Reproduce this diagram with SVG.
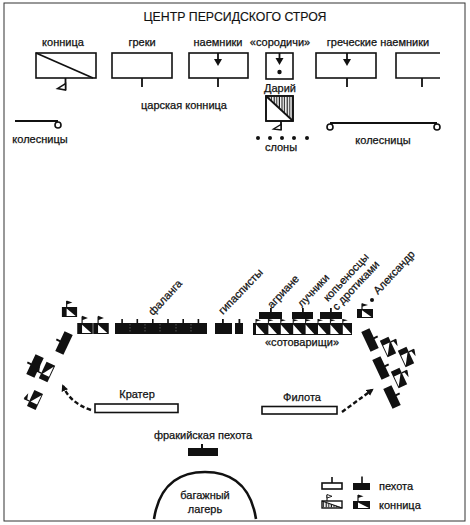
<svg xmlns="http://www.w3.org/2000/svg" width="470" height="525" viewBox="0 0 470 525">
<style>
.t{font-family:"Liberation Sans",Arial,sans-serif;font-size:11px;fill:#111;stroke:#111;stroke-width:0.25}
.tt{font-family:"Liberation Sans",Arial,sans-serif;font-size:12.3px;fill:#111;stroke:#111;stroke-width:0.15}
.box{fill:#fff;stroke:#111;stroke-width:1.6}
.blk{fill:#111}
.ln{stroke:#111;stroke-width:1.8;fill:none}
.dash{stroke:#111;stroke-width:2.4;fill:none;stroke-dasharray:4.5 2.5}
</style>
<defs>
<pattern id="vh" width="2.6" height="3" patternUnits="userSpaceOnUse"><rect width="2.6" height="3" fill="#fff"/><rect x="0.6" width="1.1" height="3" fill="#111"/></pattern>
<marker id="ah" markerWidth="8" markerHeight="8" refX="5" refY="4" orient="auto" markerUnits="userSpaceOnUse"><path d="M0,0.5 L7,4 L0,7.5 Z" fill="#111"/></marker>
<g id="infB"><rect x="-11" y="-4.5" width="22" height="9" fill="#111"/><rect x="-1" y="-8.5" width="2" height="4.5" fill="#111"/></g>
<g id="cavB"><rect x="-8" y="-5" width="16" height="10" fill="#111"/><polygon points="-3,-3.5 -3,4 6.5,4" fill="#fff"/><line x1="-3" y1="-5" x2="-3" y2="-11" stroke="#111" stroke-width="1.2"/><polygon points="-3,-11.5 3,-9.5 -3,-7.5" fill="#111"/></g>
</defs>
<rect x="0" y="0" width="470" height="525" fill="#fff"/>
<rect x="4" y="3" width="461" height="518" fill="none" stroke="#333" stroke-width="1"/>
<text class="tt" x="235" y="21" text-anchor="middle">ЦЕНТР ПЕРСИДСКОГО СТРОЯ</text>

<g id="persian-cavalry">
<text class="t" x="63" y="46" text-anchor="middle">конница</text>
<rect class="box" x="36" y="53" width="60" height="25"/>
<line class="ln" x1="36" y1="53" x2="93" y2="78" stroke-width="1.4"/>
<line class="ln" x1="65.5" y1="78" x2="65.5" y2="90" stroke-width="1.6"/>
<polygon points="65.5,83.5 65.5,90 57.5,88.5" fill="#fff" stroke="#111" stroke-width="1.5"/>
</g>
<g id="greeks">
<text class="t" x="142" y="46" text-anchor="middle">греки</text>
<rect class="box" x="112" y="53" width="60" height="25"/>
<line class="ln" x1="142" y1="78" x2="142" y2="87" stroke-width="2"/>
</g>
<g id="mercenaries">
<text class="t" x="218" y="46" text-anchor="middle">наемники</text>
<rect class="box" x="189" y="53" width="59" height="25"/>
<line class="ln" x1="218" y1="53" x2="218" y2="60"/>
<polygon points="214,59 222,59 218,66" fill="#111"/>
<line class="ln" x1="218" y1="78" x2="218" y2="87" stroke-width="2"/>
</g>
<g id="kinsmen">
<text class="t" x="280" y="46" text-anchor="middle">«сородичи»</text>
<rect class="box" x="266" y="53" width="27" height="26"/>
<line class="ln" x1="279.5" y1="53" x2="279.5" y2="59"/>
<polygon points="275.5,58 283.5,58 279.5,65" fill="#111"/>
<circle cx="279.5" cy="72" r="2.2" fill="#111"/>
</g>
<g id="darius">
<text class="t" x="280" y="92" text-anchor="middle">Дарий</text>
<rect class="box" x="266" y="96" width="27" height="25"/>
<polygon points="267,96.8 292.2,96.8 292.2,120.2" fill="url(#vh)"/>
<line class="ln" x1="266" y1="96" x2="293" y2="121" stroke-width="1.3"/>
<rect x="266" y="96" width="27" height="25" fill="none" stroke="#111" stroke-width="1.6"/>
<line class="ln" x1="281" y1="121" x2="281" y2="130" stroke-width="1.6"/>
<polygon points="281,124.5 281,130 273.5,129" fill="#fff" stroke="#111" stroke-width="1.4"/>
</g>
<g id="elephants">
<circle cx="258" cy="138" r="2" fill="#111"/>
<circle cx="270" cy="138" r="2" fill="#111"/>
<circle cx="282" cy="138" r="2" fill="#111"/>
<circle cx="294" cy="138" r="2" fill="#111"/>
<circle cx="307" cy="138" r="2" fill="#111"/>
<text class="t" x="281" y="151" text-anchor="middle">слоны</text>
</g>
<g id="greek-mercenaries">
<text class="t" x="378" y="46" text-anchor="middle">греческие наемники</text>
<rect class="box" x="316" y="53" width="60" height="25"/>
<line class="ln" x1="347" y1="53" x2="347" y2="60"/>
<polygon points="343,59 351,59 347,66" fill="#111"/>
<line class="ln" x1="347" y1="78" x2="347" y2="87" stroke-width="2"/>
</g>
<g id="right-box">
<path d="M440,53 H396 V78 H440" fill="#fff" stroke="#111" stroke-width="1.6"/>
<line class="ln" x1="422" y1="78" x2="422" y2="87" stroke-width="2"/>
</g>
<g id="royal-cavalry">
<text class="t" x="184" y="109" text-anchor="middle">царская конница</text>
</g>
<g id="chariots-left">
<line class="ln" x1="15" y1="121" x2="58" y2="121"/>
<circle cx="58" cy="125" r="3" fill="#fff" stroke="#111" stroke-width="1.6"/>
<text class="t" x="40" y="143" text-anchor="middle">колесницы</text>
</g>
<g id="chariots-right">
<line class="ln" x1="330" y1="123" x2="437" y2="123"/>
<circle cx="330" cy="127" r="3" fill="#fff" stroke="#111" stroke-width="1.6"/>
<circle cx="437" cy="127" r="3" fill="#fff" stroke="#111" stroke-width="1.6"/>
<text class="t" x="383" y="144" text-anchor="middle">колесницы</text>
</g>

<g id="left-cavalry-line">
<use href="#cavB" transform="translate(85,328.5) scale(0.97,1.1)"/>
<use href="#cavB" transform="translate(101,328.5) scale(0.97,1.1)"/>
</g>
<g id="phalanx">
<rect x="115" y="323" width="92" height="11" fill="#111"/>
<g fill="#111"><rect x="121.3" y="319" width="1.6" height="4"/><rect x="136.5" y="319" width="1.6" height="4"/><rect x="152" y="319" width="1.6" height="4"/><rect x="167.2" y="319" width="1.6" height="4"/><rect x="182.4" y="319" width="1.6" height="4"/><rect x="197.6" y="319" width="1.6" height="4"/></g>
<g stroke="#888" stroke-width="0.6" stroke-dasharray="1.5 1.5"><line x1="130" y1="324" x2="130" y2="333"/><line x1="145" y1="324" x2="145" y2="333"/><line x1="160" y1="324" x2="160" y2="333"/><line x1="176" y1="324" x2="176" y2="333"/><line x1="191" y1="324" x2="191" y2="333"/></g>
<text class="t" transform="translate(153,316) rotate(-47)">фаланга</text>
</g>
<g id="hypaspists">
<rect x="215" y="323" width="17" height="11" fill="#111"/>
<rect x="222" y="319" width="1.8" height="4" fill="#111"/>
<rect x="235" y="323" width="8" height="11" fill="#111"/>
<rect x="238.5" y="319" width="1.8" height="4" fill="#111"/>
<text class="t" transform="translate(223,315) rotate(-46)">гипасписты</text>
</g>
<g id="companions">
<rect x="253" y="323" width="99" height="12" fill="#111"/>
<g fill="#fff"><polygon points="256,324.5 256,334 264.6,334"/><polygon points="268.4,324.5 268.4,334 277,334"/><polygon points="280.8,324.5 280.8,334 289.4,334"/><polygon points="293.2,324.5 293.2,334 301.8,334"/><polygon points="305.6,324.5 305.6,334 314.2,334"/><polygon points="318,324.5 318,334 326.6,334"/><polygon points="330.4,324.5 330.4,334 339,334"/><polygon points="342.8,324.5 342.8,334 351.4,334"/></g>
<g fill="#111"><polygon points="256,319 261,320.3 256,321.6"/><polygon points="268.4,319 273.4,320.3 268.4,321.6"/><polygon points="280.8,319 285.8,320.3 280.8,321.6"/><polygon points="293.2,319 298.2,320.3 293.2,321.6"/><polygon points="305.6,319 310.6,320.3 305.6,321.6"/><polygon points="318,319 323,320.3 318,321.6"/><polygon points="330.4,319 335.4,320.3 330.4,321.6"/><polygon points="342.8,319 347.8,320.3 342.8,321.6"/></g>
<g stroke="#111" stroke-width="1"><line x1="256" y1="319" x2="256" y2="323"/><line x1="268.4" y1="319" x2="268.4" y2="323"/><line x1="280.8" y1="319" x2="280.8" y2="323"/><line x1="293.2" y1="319" x2="293.2" y2="323"/><line x1="305.6" y1="319" x2="305.6" y2="323"/><line x1="318" y1="319" x2="318" y2="323"/><line x1="330.4" y1="319" x2="330.4" y2="323"/><line x1="342.8" y1="319" x2="342.8" y2="323"/></g>
<text class="t" x="302" y="346" text-anchor="middle">«сотоварищи»</text>
</g>
<g id="agrianians">
<rect x="259" y="312" width="23" height="7" fill="#111"/>
<rect x="270" y="308" width="1.8" height="4" fill="#111"/>
<text class="t" transform="translate(272,309) rotate(-47)">агриане</text>
</g>
<g id="archers">
<rect x="292" y="312" width="21" height="7" fill="#111"/>
<rect x="302" y="308" width="1.8" height="4" fill="#111"/>
<text class="t" transform="translate(302,308) rotate(-47)">лучники</text>
</g>
<g id="javelinmen">
<rect x="320" y="312" width="22" height="7" fill="#111"/>
<rect x="330" y="308" width="1.8" height="4" fill="#111"/>
<text class="t" transform="translate(328,302) rotate(-47)">копьеносцы</text>
<text class="t" transform="translate(337,311) rotate(-47)">с дротиками</text>
</g>
<g id="alexander">
<use href="#cavB" transform="translate(365,313.5) scale(1,0.9)"/>
<circle cx="372" cy="300" r="2" fill="#111"/>
<text class="t" transform="translate(378,295) rotate(-47)">Александр</text>
</g>
<g id="left-flank">
<use href="#cavB" transform="translate(69.5,312) scale(0.95,1)"/>
<use href="#infB" transform="translate(64,343) rotate(-65)"/>
<use href="#infB" transform="translate(35,366) rotate(-65)"/>
<use href="#cavB" transform="translate(47,372) rotate(-65) scale(1.15,0.95)"/>
<use href="#cavB" transform="translate(35,400) rotate(-65) scale(1.1,0.95)"/>
</g>
<g id="right-flank">
<use href="#infB" transform="translate(370,340) rotate(65)"/>
<use href="#cavB" transform="translate(388,347) rotate(65) scale(1.15,0.95)"/>
<use href="#infB" transform="translate(381,368) rotate(65)"/>
<use href="#cavB" transform="translate(406,357) rotate(65) scale(1.15,0.95)"/>
<use href="#cavB" transform="translate(399,378) rotate(65) scale(1.15,0.95)"/>
<use href="#infB" transform="translate(392,397) rotate(65)"/>
</g>
<g id="crater">
<text class="t" x="137" y="398" text-anchor="middle">Кратер</text>
<rect class="box" x="95" y="404" width="83" height="8.5"/>
</g>
<g id="philotas">
<text class="t" x="302" y="401" text-anchor="middle">Филота</text>
<rect class="box" x="262" y="406.5" width="75" height="7.5"/>
</g>
<g id="thracian-infantry">
<text class="t" x="203" y="439" text-anchor="middle">фракийская пехота</text>
<rect x="188" y="448" width="30" height="8" fill="#111"/>
<rect x="201" y="444" width="2" height="4" fill="#111"/>
</g>
<g id="baggage-camp">
<path d="M154,519 C160,480 185,472 205,472 C225,472 250,480 256,519" fill="none" stroke="#111" stroke-width="2.6"/>
<text class="t" x="205" y="499" text-anchor="middle">багажный</text>
<text class="t" x="205" y="513" text-anchor="middle">лагерь</text>
</g>
<g id="legend">
<rect class="box" x="322" y="483" width="20" height="6" stroke-width="1.4"/>
<rect x="331.2" y="477" width="1.6" height="6" fill="#111"/>
<rect x="353" y="483" width="17" height="7" fill="#111"/>
<rect x="361.2" y="476.5" width="1.6" height="6.5" fill="#111"/>
<text class="t" x="379" y="490">пехота</text>
<polygon points="322.7,501.7 322.7,507.3 341.3,507.3" fill="url(#vh)"/>
<rect x="322" y="501" width="20" height="7" fill="none" stroke="#111" stroke-width="1.4"/>
<line x1="322" y1="501" x2="342" y2="508" stroke="#111" stroke-width="1.1"/>
<line x1="327" y1="501" x2="327" y2="495" stroke="#111" stroke-width="1.1"/>
<polygon points="327,494.5 332,496.3 327,498" fill="#fff" stroke="#111" stroke-width="0.9"/>
<rect x="353" y="501" width="17" height="8" fill="#111"/>
<polygon points="358,502.5 358,508 369,508" fill="#fff"/>
<line x1="358" y1="501" x2="358" y2="495" stroke="#111" stroke-width="1.2"/>
<polygon points="358,494.5 363.5,496.3 358,498" fill="#111"/>
<text class="t" x="379" y="509">конница</text>
</g>
<g id="connectors">
<path class="dash" d="M91,410 Q70,403 63,386" marker-end="url(#ah)"/>
<path class="dash" d="M342,412 L372,390" marker-end="url(#ah)"/>
</g>
</svg>
